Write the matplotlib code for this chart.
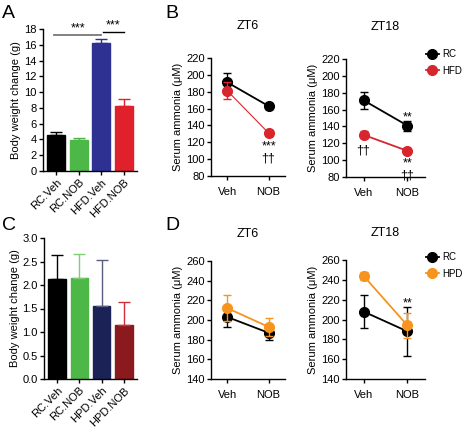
import matplotlib
matplotlib.use("Agg")
import matplotlib.pyplot as plt
import numpy as np

plt.rcParams['font.family'] = ['Liberation Sans', 'DejaVu Sans']

# ---- data ----
a_cats = ["RC.Veh", "RC.NOB", "HFD.Veh", "HFD.NOB"]
a_vals = [4.6, 3.9, 16.2, 8.3]
a_err = [0.35, 0.3, 0.55, 0.8]
a_colors = ["#000000", "#4db848", "#2e3192", "#e0202a"]

x_groups = ["Veh", "NOB"]
b6_rc = [191, 163]; b6_rc_err = [11, 3]
b6_hfd = [181, 131]; b6_hfd_err = [10, 3]
b18_rc = [171, 141]; b18_rc_err = [10, 6]
b18_hfd = [130, 111]; b18_hfd_err = [4, 3]

c_cats = ["RC.Veh", "RC.NOB", "HPD.Veh", "HPD.NOB"]
c_vals = [2.12, 2.14, 1.56, 1.14]
c_err = [0.52, 0.52, 0.98, 0.50]
c_colors = ["#000000", "#4db848", "#1b2255", "#8a1a1e"]
c_err_colors = ["#000000", "#7fcf72", "#5a5f80", "#d0303a"]

d6_rc = [203, 187]; d6_rc_err = [10, 7]
d6_hpd = [212, 193]; d6_hpd_err = [13, 9]
d18_rc = [208, 188]; d18_rc_err = [17, 25]
d18_hpd = [244, 194]; d18_hpd_err = [4, 13]

W, H = 472, 430
fig = plt.figure(figsize=(W/100, H/100), dpi=100)

def ax_px(l, r, t, b):
    return fig.add_axes([l/W, 1 - b/H, (r-l)/W, (b-t)/H])

def style(ax):
    for s in ["top", "right"]:
        ax.spines[s].set_visible(False)
    for s in ["left", "bottom"]:
        ax.spines[s].set_linewidth(1.0)
    ax.tick_params(labelsize=8, length=3, width=1, pad=1.5)

FS = 8
RED = "#d7262e"
ORANGE = "#f7941d"

# ---- Panel A ----
ax = ax_px(43, 137, 29, 171)
style(ax)
xa = np.arange(len(a_cats))
ax.bar(xa, a_vals, width=0.8, color=a_colors, edgecolor=a_colors)
for i in range(len(a_cats)):
    ax.errorbar(xa[i], a_vals[i], yerr=[[0], [a_err[i]]], color=a_colors[i],
                capsize=4, elinewidth=1, capthick=1)
ax.set_ylim(0, 18)
ax.set_yticks(range(0, 19, 2))
ax.set_xlim(-0.6, 3.6)
ax.set_xticks(xa)
ax.set_xticklabels(a_cats, rotation=45, ha='right', rotation_mode='anchor', fontsize=FS)
ax.set_ylabel("Body weight change (g)", fontsize=FS, labelpad=2)
ax.plot([-0.1, 2.0], [17.2, 17.2], color="#777777", lw=1.3, clip_on=False)
ax.text(0.95, 17.25, "***", ha='center', va='bottom', fontsize=9)
ax.plot([2.1, 3.0], [17.6, 17.6], color="#000000", lw=1.0, clip_on=False)
ax.text(2.55, 17.65, "***", ha='center', va='bottom', fontsize=9)
fig.text(2/W, 1 - 14/H, "A", fontsize=14, va='center')

# ---- line panel helper ----
def line_panel(box, ylim, yticks, rc, rc_err, other, other_err, ocolor, olw, title, tpad):
    ax = ax_px(*box)
    style(ax)
    xs = np.arange(2)
    ax.errorbar(xs, rc, yerr=rc_err, color="black", marker='o', ms=7, lw=1.3,
                capsize=3, elinewidth=1, capthick=1, zorder=3)
    ax.errorbar(xs, other, yerr=other_err, color=ocolor, marker='o', ms=7, lw=olw,
                capsize=3, elinewidth=1, capthick=1, zorder=4)
    ax.set_xlim(-0.4, 1.4)
    ax.set_xticks(xs)
    ax.set_xticklabels(x_groups, fontsize=FS)
    ax.tick_params(axis='x', pad=5)
    ax.set_ylim(*ylim)
    ax.set_yticks(yticks)
    ax.set_ylabel("Serum ammonia (\u03bcM)", fontsize=FS, labelpad=2)
    ax.set_title(title, fontsize=9, pad=tpad)
    return ax

def add_legend(ax, color, labels, top_px):
    h1 = ax.plot([], [], color='black', marker='o', ms=7, lw=1.3)[0]
    h2 = ax.plot([], [], color=color, marker='o', ms=7, lw=1.3)[0]
    fig.legend([h1, h2], labels, loc='upper left', bbox_to_anchor=(426/W, 1 - top_px/H),
               frameon=False, fontsize=7, handlelength=1.3, handletextpad=0.4,
               labelspacing=0.7, borderaxespad=0, borderpad=0)

ax = line_panel((211, 285, 58, 176), (80, 220), range(80, 221, 20),
                b6_rc, b6_rc_err, b6_hfd, b6_hfd_err, RED, 0.8, "ZT6", 21)
ax.text(1, 122, "***\n\u2020\u2020", ha='center', va='top', fontsize=9,
        linespacing=0.95)
fig.text(165/W, 1 - 14/H, "B", fontsize=14, va='center')

ax = line_panel((346, 425, 59, 177), (80, 220), range(80, 221, 20),
                b18_rc, b18_rc_err, b18_hfd, b18_hfd_err, RED, 1.3, "ZT18", 21)
ax.text(1, 151, "**", ha='center', va='center', fontsize=9)
ax.text(0, 112, "\u2020\u2020", ha='center', va='center', fontsize=9)
ax.text(1, 103, "**\n\u2020\u2020", ha='center', va='top', fontsize=9,
        linespacing=0.95)
add_legend(ax, RED, ["RC", "HFD"], 49)

# ---- Panel C ----
ax = ax_px(44, 137, 238, 379)
style(ax)
xc = np.arange(len(c_cats))
ax.bar(xc, c_vals, width=0.8, color=c_colors, edgecolor=c_colors)
for i in range(len(c_cats)):
    ax.errorbar(xc[i], c_vals[i], yerr=[[0], [c_err[i]]], color=c_err_colors[i],
                capsize=4, elinewidth=1, capthick=1)
ax.set_ylim(0, 3.0)
ax.set_yticks(np.arange(0, 3.01, 0.5))
ax.set_yticklabels([f"{v:.1f}" for v in np.arange(0, 3.01, 0.5)])
ax.set_xlim(-0.6, 3.6)
ax.set_xticks(xc)
ax.set_xticklabels(c_cats, rotation=45, ha='right', rotation_mode='anchor', fontsize=FS)
ax.set_ylabel("Body weight change (g)", fontsize=FS, labelpad=2)
fig.text(2/W, 1 - 226/H, "C", fontsize=14, va='center')

# ---- Panel D ----
ax = line_panel((211, 285, 261, 379), (140, 260), range(140, 261, 20),
                d6_rc, d6_rc_err, d6_hpd, d6_hpd_err, ORANGE, 1.3, "ZT6", 17)
fig.text(165/W, 1 - 226/H, "D", fontsize=14, va='center')

ax = line_panel((346, 425, 260, 379), (140, 260), range(140, 261, 20),
                d18_rc, d18_rc_err, d18_hpd, d18_hpd_err, ORANGE, 1.3, "ZT18", 17)
ax.text(1, 216, "**", ha='center', va='center', fontsize=9)
add_legend(ax, ORANGE, ["RC", "HPD"], 252)

fig.savefig("out.png", dpi=100)
